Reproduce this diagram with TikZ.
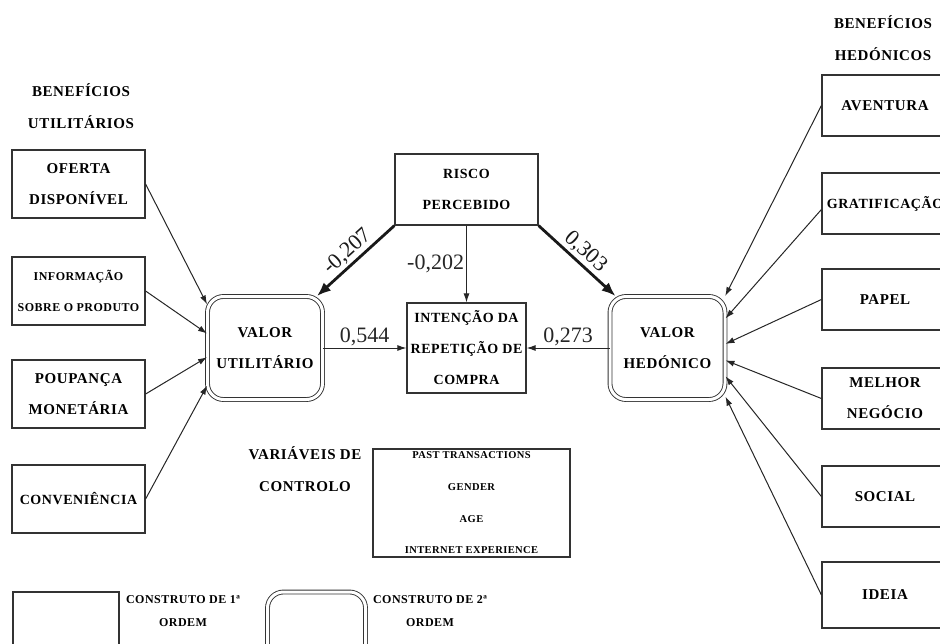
\documentclass[tikz,border=0pt]{standalone}
\usepackage{fontspec}
\setmainfont{Liberation Serif}
\newfontfamily\capsfont[LetterSpace=4]{Liberation Serif}
\usetikzlibrary{arrows.meta,positioning}
\tikzset{
  construto/.style={draw=black!80, line width=1.2pt, minimum width=133pt, minimum height=68pt, align=center, inner sep=0pt, font=\capsfont\bfseries\fontsize{15}{31}\selectfont},
  segunda/.style={draw=black!80, double=white, double distance=3pt, line width=0.9pt, rounded corners=16pt, minimum width=115pt, minimum height=103pt, align=center, inner sep=0pt, font=\capsfont\bfseries\fontsize{15}{31}\selectfont},
  titulo/.style={align=center, inner sep=0pt, font=\capsfont\bfseries\fontsize{15}{32}\selectfont},
  legtext/.style={align=center, inner sep=0pt, font=\capsfont\bfseries\fontsize{12}{23}\selectfont},
  coef/.style={inner sep=2pt, font=\fontsize{22}{22}\selectfont},
  seta/.style={-{Latex[length=9pt,width=6pt]}, line width=1pt, black!85},
  setaforte/.style={-{Latex[length=14pt,width=11pt]}, line width=2.8pt, black!90}
}
\begin{document}
\begin{tikzpicture}[x=1pt,y=-1pt]
  \useasboundingbox (0,0) rectangle (940,643);

  % beneficios utilitarios
  \node[titulo] (tutil) at (81,106) {BENEFÍCIOS\\UTILITÁRIOS};
  \node[construto] (oferta) at (78.5,184) {OFERTA\\DISPONÍVEL};
  \node[construto, font=\capsfont\bfseries\fontsize{12}{31}\selectfont] (info) at (78.5,291) {INFORMAÇÃO\\SOBRE O PRODUTO};
  \node[construto] (poupanca) at (78.5,394) {POUPANÇA\\MONETÁRIA};
  \node[construto, font=\capsfont\bfseries\fontsize{14}{31}\selectfont] (conv) at (78.5,499) {CONVENIÊNCIA};

  % construtos centrais
  \node[segunda] (vu) at (265,348) {VALOR\\UTILITÁRIO};
  \node[construto, minimum width=143pt, minimum height=71pt, font=\capsfont\bfseries\fontsize{14}{31}\selectfont] (risco) at (466.5,189.5) {RISCO\\PERCEBIDO};
  \node[construto, minimum width=119pt, minimum height=90pt, font=\capsfont\bfseries\fontsize{14}{31}\selectfont] (intencao) at (466.5,348) {INTENÇÃO DA\\REPETIÇÃO DE\\COMPRA};
  \node[segunda] (vh) at (667.5,348) {VALOR\\HEDÓNICO};

  % beneficios hedonicos
  \node[titulo] (thed) at (883,38.5) {BENEFÍCIOS\\HEDÓNICOS};
  \node[construto, minimum width=126pt, minimum height=61pt] (aventura) at (885,105.5) {AVENTURA};
  \node[construto, minimum width=126pt, minimum height=61pt, font=\capsfont\bfseries\fontsize{14}{31}\selectfont] (grat) at (885,203.5) {GRATIFICAÇÃO};
  \node[construto, minimum width=126pt, minimum height=61pt] (papel) at (885,299.5) {PAPEL};
  \node[construto, minimum width=126pt, minimum height=61pt] (melhor) at (885,398.5) {MELHOR\\NEGÓCIO};
  \node[construto, minimum width=126pt, minimum height=61pt] (social) at (885,496.5) {SOCIAL};
  \node[construto, minimum width=126pt, minimum height=66pt] (ideia) at (885,595) {IDEIA};

  % variaveis de controlo
  \node[titulo] (tctl) at (305,469) {VARIÁVEIS DE\\CONTROLO};
  \node[construto, minimum width=197pt, minimum height=108pt, font=\capsfont\bfseries\fontsize{10.5}{31.7}\selectfont] (controlo) at (471.5,503) {PAST TRANSACTIONS\\GENDER\\AGE\\INTERNET EXPERIENCE};

  % legenda
  \node[construto, minimum width=106pt] (leg1) at (66,626) {};
  \node[legtext] (leg1txt) at (183,611.5) {CONSTRUTO DE 1ª\\ORDEM};
  \node[segunda, minimum width=98pt, minimum height=68pt] (leg2) at (316.5,626) {};
  \node[legtext] (leg2txt) at (430,611.5) {CONSTRUTO DE 2ª\\ORDEM};

  % setas
  \draw[seta] (oferta.east) -- (vu.143);
  \draw[seta] (info.east) -- (vu.166);
  \draw[seta] (poupanca.east) -- (vu.189);
  \draw[seta] (conv.east) -- (vu.213);

  \draw[seta] (aventura.west) -- (vh.42);
  \draw[seta] ([yshift=-6pt]grat.west) -- (vh.27);
  \draw[seta] (papel.west) -- (vh.4);
  \draw[seta] (melhor.west) -- (vh.-12);
  \draw[seta] (social.west) -- (vh.-26);
  \draw[seta] (ideia.west) -- (vh.-40);

  \draw[setaforte] (risco.south west) -- node[coef, sloped, above] (c207) {-0,207} (vu.45);
  \draw[setaforte] (risco.south east) -- node[coef, sloped, above] (c303) {0,303} (vh.135);
  \draw[seta] (risco.south) -- node[coef, left] (c202) {-0,202} (intencao.north);
  \draw[seta] (vu.east) -- node[coef, above] (c544) {0,544} (intencao.west);
  \draw[seta] (vh.west) -- node[coef, above] (c273) {0,273} (intencao.east);
\end{tikzpicture}
\end{document}
